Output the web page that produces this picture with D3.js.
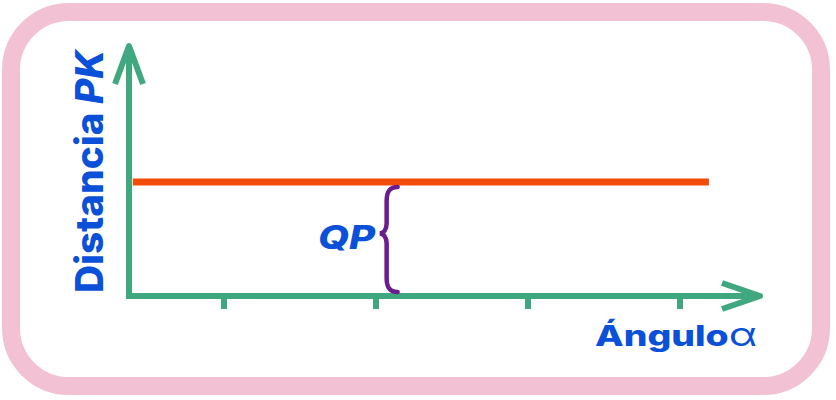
<!DOCTYPE html>
<html>
<head>
<meta charset="utf-8">
<script src="https://cdn.jsdelivr.net/npm/d3@7"></script>
<style>
  html, body { margin: 0; padding: 0; background: #ffffff; }
  svg { display: block; }
</style>
</head>
<body>
<div id="chart"></div>
<script>
// ---- data ----
const tickValues = [1, 2, 3, 4];           // unlabelled angle ticks
const lineX = [0.4, 4.19];                 // horizontal extent of the distance line (angle units)
const lineY = [1, 1];                      // PK distance is constant
const qpValue = 1;                         // QP = PK
const braceX = 2.07;                       // where the QP brace sits
const yAxisTitle = "Distancia ";
const yAxisTitleItalic = "PK";
const xAxisTitle = "Ángulo";
const xAxisSymbol = "α";
const braceLabel = "QP";

(function () {
// ---- setup ----
const W = 836, H = 400;
const green = "#40a87e", red = "#f24c0b", blue = "#0a50d8", purple = "#6a1d8e", pink = "#f2c2d4";
const font = "Inter, 'Open Sans', sans-serif";

const svg = d3.select("#chart").append("svg").attr("width", W).attr("height", H);

// frame
svg.append("rect")
  .attr("x", 11).attr("y", 12).attr("width", 810).attr("height", 374)
  .attr("rx", 58).attr("ry", 58)
  .attr("fill", "#fff").attr("stroke", pink).attr("stroke-width", 18);

const x = d3.scaleLinear().domain([1, 4]).range([224, 680]);
const y = d3.scaleLinear().domain([0, 1]).range([296, 182]);

const originX = 129, axisTopY = 46, axisRightX = 760;

// orange line
svg.append("path")
  .datum(lineX.map((d, i) => [d, lineY[i]]))
  .attr("d", d3.line().x(d => x(d[0])).y(d => y(d[1])))
  .attr("stroke", red).attr("stroke-width", 7).attr("fill", "none");

// y axis
svg.append("line")
  .attr("x1", originX).attr("x2", originX)
  .attr("y1", y(0) + 3).attr("y2", axisTopY + 2)
  .attr("stroke", green).attr("stroke-width", 6);
svg.append("polyline")
  .attr("points", `${originX - 14},84 ${originX},${axisTopY} ${originX + 14},84`)
  .attr("fill", "none").attr("stroke", green).attr("stroke-width", 6)
  .attr("stroke-linejoin", "round");

// x axis
svg.append("line")
  .attr("x1", originX - 3).attr("x2", axisRightX - 2)
  .attr("y1", y(0)).attr("y2", y(0))
  .attr("stroke", green).attr("stroke-width", 6);
svg.append("polyline")
  .attr("points", `722,${y(0) - 13} ${axisRightX},${y(0)} 722,${y(0) + 13}`)
  .attr("fill", "none").attr("stroke", green).attr("stroke-width", 6)
  .attr("stroke-linejoin", "round");

// ticks
svg.selectAll(".tick").data(tickValues).enter().append("line")
  .attr("x1", d => x(d)).attr("x2", d => x(d))
  .attr("y1", y(0)).attr("y2", y(0) + 13)
  .attr("stroke", green).attr("stroke-width", 6);

// brace
const bx = x(braceX), bTop = y(qpValue) + 5, bBot = y(0) - 4, mid = (bTop + bBot) / 2 - 6;
const bp = d3.path();
bp.moveTo(bx + 11, bTop);
bp.bezierCurveTo(bx + 2, bTop, bx, bTop + 6, bx, bTop + 14);
bp.lineTo(bx, mid - 10);
bp.bezierCurveTo(bx, mid - 4, bx - 3, mid, bx - 7, mid);
bp.bezierCurveTo(bx - 3, mid, bx, mid + 4, bx, mid + 10);
bp.lineTo(bx, bBot - 14);
bp.bezierCurveTo(bx, bBot - 6, bx + 2, bBot, bx + 11, bBot);
svg.append("path").attr("d", bp.toString())
  .attr("fill", "none").attr("stroke", purple).attr("stroke-width", 4.5)
  .attr("stroke-linecap", "round");

// QP label
svg.append("text")
  .attr("x", 318).attr("y", 249)
  .attr("font-family", font).attr("font-weight", 800)
  .attr("font-style", "italic").attr("font-size", 32).attr("fill", blue)
  .attr("textLength", 57).attr("lengthAdjust", "spacingAndGlyphs")
  .text(braceLabel);

// y title
const yt = svg.append("text")
  .attr("transform", `translate(103,171.5) rotate(-90)`)
  .attr("text-anchor", "middle")
  .attr("font-family", font).attr("font-weight", 800)
  .attr("font-size", 38).attr("fill", blue)
  .attr("textLength", 243).attr("lengthAdjust", "spacingAndGlyphs");
yt.append("tspan").text(yAxisTitle);
yt.append("tspan").attr("font-style", "italic").text(yAxisTitleItalic);

// x title
const xt = svg.append("text")
  .attr("x", 595).attr("y", 346)
  .attr("font-family", font).attr("fill", blue)
  .attr("textLength", 162).attr("lengthAdjust", "spacingAndGlyphs");
xt.append("tspan").attr("font-weight", 800).attr("font-size", 28).text(xAxisTitle);
xt.append("tspan").attr("font-weight", 400).attr("font-size", 32).text(xAxisSymbol);
})();
</script>
</body>
</html>
